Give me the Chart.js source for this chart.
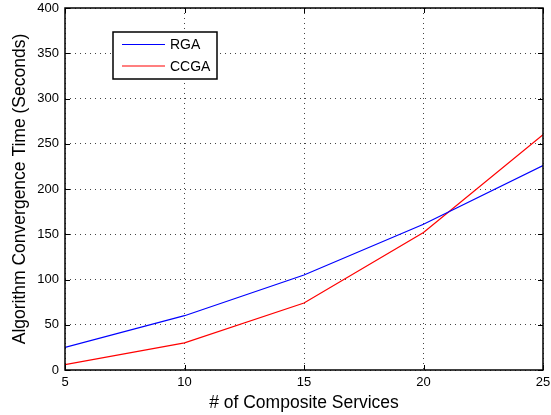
<!DOCTYPE html>
<html>
<head>
<meta charset="utf-8">
<script src="https://cdn.jsdelivr.net/npm/chart.js@4"></script>
<style>
  html, body { margin: 0; padding: 0; background: #fff; }
  #wrap { width: 551px; height: 415px; }
</style>
</head>
<body>
<div id="wrap"><canvas id="chart" width="551" height="415"></canvas></div>
<script>
// values
const services = [5, 10, 15, 20, 25];
const rgaTime = [25, 60, 105, 161, 226];
const ccgaTime = [6, 30, 74, 152, 260];
const xTicks = [5, 10, 15, 20, 25];
const yTicks = [0, 50, 100, 150, 200, 250, 300, 350, 400];

const FONT = "'Liberation Sans', Arial, Helvetica, sans-serif";

// box, inward ticks and legend, matlab style
const matlabBox = {
  id: 'matlabBox',
  afterDraw(chart) {
    const { ctx, chartArea: a, scales } = chart;
    ctx.save();
    ctx.strokeStyle = '#000';
    ctx.lineWidth = 1;
    ctx.beginPath();
    xTicks.forEach(v => {
      const x = Math.round(scales.x.getPixelForValue(v)) + 0.5;
      ctx.moveTo(x, a.bottom); ctx.lineTo(x, a.bottom - 5);
      ctx.moveTo(x, a.top); ctx.lineTo(x, a.top + 5);
    });
    yTicks.forEach(v => {
      const y = Math.round(scales.y.getPixelForValue(v)) + 0.5;
      ctx.moveTo(a.left, y); ctx.lineTo(a.left + 5, y);
      ctx.moveTo(a.right, y); ctx.lineTo(a.right - 5, y);
    });
    ctx.stroke();
    ctx.lineWidth = 1.5;
    ctx.strokeRect(a.left, a.top, a.right - a.left, a.bottom - a.top);

    // legend box
    const lx = 113, ly = 32, lw = 104, lh = 47;
    ctx.fillStyle = '#fff';
    ctx.fillRect(lx, ly, lw, lh);
    ctx.lineWidth = 1.5;
    ctx.strokeRect(lx, ly, lw, lh);
    ctx.font = '14px ' + FONT;
    ctx.textBaseline = 'middle';
    chart.data.datasets.forEach((ds, i) => {
      const y = ly + 12.5 + i * 21.5;
      ctx.strokeStyle = ds.borderColor;
      ctx.lineWidth = 1.2;
      ctx.beginPath();
      ctx.moveTo(lx + 9, y); ctx.lineTo(lx + 52, y);
      ctx.stroke();
      ctx.fillStyle = '#000';
      ctx.fillText(ds.label, lx + 57, y + 1);
    });
    ctx.restore();
  }
};

new Chart(document.getElementById('chart'), {
  type: 'line',
  data: {
    datasets: [
      {
        label: 'RGA',
        data: services.map((x, i) => ({ x: x, y: rgaTime[i] })),
        borderColor: '#0000ff',
        borderWidth: 1.2,
        pointRadius: 0,
        tension: 0
      },
      {
        label: 'CCGA',
        data: services.map((x, i) => ({ x: x, y: ccgaTime[i] })),
        borderColor: '#ff0000',
        borderWidth: 1.2,
        pointRadius: 0,
        tension: 0
      }
    ]
  },
  options: {
    responsive: false,
    animation: false,
    layout: { padding: { top: 8, right: 8, left: 0, bottom: 0 } },
    plugins: {
      legend: { display: false },
      tooltip: { enabled: false }
    },
    scales: {
      x: {
        type: 'linear',
        min: 5,
        max: 25,
        afterBuildTicks: s => { s.ticks = xTicks.map(v => ({ value: v })); },
        afterFit: s => { s.height = 45; s.paddingLeft = 0; s.paddingRight = 0; },
        ticks: { color: '#000', font: { family: FONT, size: 13 }, padding: 5, maxRotation: 0 },
        grid: { color: '#444', lineWidth: 1, drawTicks: false, tickLength: 0 },
        border: { display: false, dash: [1, 4] },
        title: { display: true, text: '# of Composite Services', color: '#000', font: { family: FONT, size: 17.5 }, padding: { top: 0, bottom: 1 } }
      },
      y: {
        min: 0,
        max: 400,
        afterBuildTicks: s => { s.ticks = yTicks.map(v => ({ value: v })); },
        afterFit: s => { s.width = 65; s.paddingTop = 0; s.paddingBottom = 0; },
        ticks: { color: '#000', font: { family: FONT, size: 13 }, padding: 6 },
        grid: { color: '#444', lineWidth: 1, drawTicks: false, tickLength: 0 },
        border: { display: false, dash: [1, 4] },
        title: { display: true, text: 'Algorithm Convergence Time (Seconds)', color: '#000', font: { family: FONT, size: 17.5 }, padding: { top: 10, bottom: 0 } }
      }
    }
  },
  plugins: [matlabBox]
});
</script>
</body>
</html>
